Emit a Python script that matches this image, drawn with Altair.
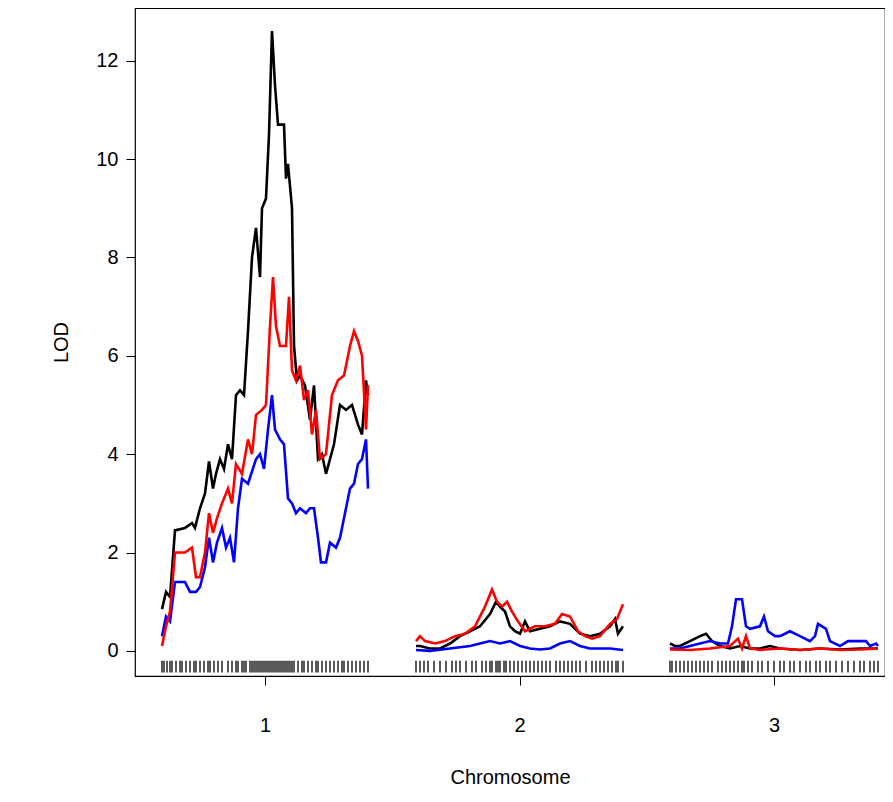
import pandas as pd
import altair as alt

# chromosome offsets on the genome axis (cM) and tick centres
chrom_names = ["1", "2", "3"]
chrom_offset = [0, 127, 254]
chrom_length = [103, 103.5, 104]

# chr 1 scan (pos cM, LOD for three phenotypes)
c1_pos_k = [0, 2, 4, 6.5, 11.5, 15, 16.5, 19, 21.5, 23.5, 25.5, 27, 29, 31, 33, 35, 37, 39, 41, 43, 45, 47, 49,
            50, 52, 53.5, 55, 56.5, 58, 61, 62, 63, 65, 66, 67.5, 69, 71.5, 74, 76, 78, 80, 82, 84, 86, 89, 92,
            95, 98, 100, 102, 103]
c1_black = [0.85, 1.2, 1.1, 2.45, 2.5, 2.6, 2.5, 2.9, 3.2, 3.85, 3.3, 3.6, 3.9, 3.7, 4.2, 3.9, 5.2, 5.3, 5.2,
            6.5, 8.0, 8.6, 7.6, 9.0, 9.2, 10.5, 12.6, 11.5, 10.7, 10.7, 9.6, 9.9, 9.0, 6.2, 5.5, 5.6, 5.4, 4.7,
            5.4, 3.9, 4.0, 3.6, 3.9, 4.2, 5.0, 4.9, 5.0, 4.6, 4.4, 5.5, 5.2]
c1_pos_r = [0, 2, 4, 6.5, 11.5, 15, 17, 19, 21.5, 23.5, 25.5, 27.5, 30, 33, 35, 37, 40, 43, 45, 47, 50, 52,
            54, 55.5, 57, 59, 62, 63.5, 65, 67, 69, 71, 73, 75, 77, 79, 82, 85, 88, 91, 94, 96, 98, 100, 102, 103]
c1_red = [0.1, 0.5, 0.8, 2.0, 2.0, 2.1, 1.5, 1.5, 2.0, 2.8, 2.4, 2.7, 3.0, 3.3, 3.0, 3.8, 3.6, 4.3, 4.0, 4.8,
          4.9, 5.0, 6.6, 7.6, 6.6, 6.2, 6.2, 7.2, 5.7, 5.5, 5.8, 5.1, 5.3, 4.4, 4.9, 3.9, 4.0, 5.2, 5.5, 5.6,
          6.2, 6.5, 6.3, 6.0, 4.5, 5.4]
c1_pos_b = [0, 2, 4, 6.5, 11.5, 14, 17, 19, 21.5, 23.5, 25.5, 27.5, 30, 32, 34, 36, 38, 40, 43, 47, 49, 51,
            53, 55, 56.5, 59, 61, 63, 65, 67, 69, 72, 74, 76, 78, 79.5, 82, 84, 87, 89, 92, 94, 96, 98, 100, 102,
            103]
c1_blue = [0.3, 0.7, 0.6, 1.4, 1.4, 1.2, 1.2, 1.3, 1.7, 2.3, 1.8, 2.2, 2.5, 2.1, 2.3, 1.8, 2.9, 3.5, 3.4, 3.9,
           4.0, 3.7, 4.5, 5.2, 4.5, 4.3, 4.2, 3.1, 3.0, 2.8, 2.9, 2.8, 2.9, 2.9, 2.3, 1.8, 1.8, 2.2, 2.1, 2.3,
           2.9, 3.3, 3.4, 3.8, 3.9, 4.3, 3.3]

# chr 2
c2_pos_k = [0, 2, 7, 12, 17, 22, 27, 32, 37, 40, 42, 44.5, 47, 49.5, 52, 54.5, 57, 62, 67, 72, 77, 82, 87, 92,
            97, 99.5, 101, 103.5]
c2_black = [0.1, 0.1, 0.05, 0.05, 0.15, 0.3, 0.4, 0.5, 0.75, 1.0, 0.9, 0.8, 0.5, 0.4, 0.35, 0.6, 0.4, 0.45,
            0.5, 0.6, 0.55, 0.35, 0.3, 0.35, 0.5, 0.65, 0.35, 0.5]
c2_pos_r = [0, 2, 4.5, 9.5, 14.5, 19.5, 24.5, 29.5, 34.5, 38, 40.5, 43, 45.5, 48, 51, 54.5, 59.5, 64.5, 69.5,
            73, 77, 81, 84.5, 88, 92, 97, 100.5, 103.5]
c2_red = [0.2, 0.3, 0.2, 0.15, 0.2, 0.3, 0.35, 0.5, 0.9, 1.25, 1.0, 0.9, 1.0, 0.8, 0.6, 0.4, 0.5, 0.5, 0.55,
          0.75, 0.7, 0.4, 0.3, 0.25, 0.3, 0.55, 0.65, 0.95]
c2_pos_b = [0, 7, 17, 27, 32, 37, 42, 47, 52, 57, 62, 67, 72, 77, 82, 87, 92, 97, 103.5]
c2_blue = [0.02, 0.0, 0.05, 0.1, 0.15, 0.2, 0.15, 0.2, 0.1, 0.05, 0.03, 0.05, 0.15, 0.2, 0.1, 0.05, 0.05, 0.05,
           0.02]

# chr 3
c3_pos_k = [0, 2.5, 5, 10, 15, 18, 21, 25, 30, 35, 40, 45, 50, 55, 65, 75, 85, 95, 104]
c3_black = [0.15, 0.1, 0.1, 0.2, 0.3, 0.35, 0.2, 0.1, 0.05, 0.1, 0.05, 0.05, 0.1, 0.05, 0.02, 0.05, 0.03,
            0.05, 0.05]
c3_pos_r = [0, 10, 20, 30, 34, 36, 38, 40, 45, 55, 65, 75, 85, 95, 104]
c3_red = [0.03, 0.02, 0.05, 0.1, 0.25, 0.05, 0.3, 0.05, 0.02, 0.05, 0.02, 0.05, 0.02, 0.03, 0.05]
c3_pos_b = [0, 5, 10, 15, 20, 25, 29, 31, 33, 36, 38, 40, 45, 47, 49, 52.5, 55, 60, 65, 70, 72.5, 74, 76, 78,
            80, 85, 89, 93, 98, 100, 103, 104]
c3_blue = [0.05, 0.05, 0.1, 0.15, 0.2, 0.15, 0.15, 0.5, 1.05, 1.05, 0.5, 0.45, 0.5, 0.7, 0.4, 0.3, 0.3, 0.4,
           0.3, 0.2, 0.3, 0.55, 0.5, 0.45, 0.2, 0.1, 0.2, 0.2, 0.2, 0.1, 0.15, 0.1]

# marker positions (cM within chromosome)
markers_1 = [0, 1, 2.5, 4, 5, 7, 9, 10, 12, 14, 16, 17, 19, 21, 23, 24, 26, 28, 30, 33, 35, 37, 38, 40, 41, 42,
             44, 45, 46, 47, 48, 49, 50, 51, 52, 53, 54, 55, 56, 57, 58, 59, 60, 61, 62, 63, 64, 65, 66, 68,
             70, 71, 73, 75, 77, 78, 80, 82, 84, 86, 88, 90, 91, 93, 95, 97, 99, 101, 103]
markers_2 = [0, 2, 4, 6, 9, 12, 15, 18, 20, 22, 25, 28, 30, 33, 35, 37, 38, 40, 41, 42, 44, 45, 47, 49, 51,
             53, 55, 57, 59, 61, 63, 65, 67, 70, 72, 74, 76, 78, 80, 82, 85, 88, 90, 92, 94, 96, 98, 100, 101,
             103.5]
markers_3 = [0, 1, 3, 5, 7, 9, 11, 13, 15, 17, 19, 21, 24, 26, 28, 30, 32, 34, 36, 37, 39, 41, 44, 46, 49, 52,
             55, 57, 60, 62, 65, 68, 70, 73, 75, 78, 80, 83, 86, 89, 92, 95, 97, 100, 102, 104]

series = [
    ("black", [(c1_pos_k, c1_black), (c2_pos_k, c2_black), (c3_pos_k, c3_black)]),
    ("blue", [(c1_pos_b, c1_blue), (c2_pos_b, c2_blue), (c3_pos_b, c3_blue)]),
    ("red", [(c1_pos_r, c1_red), (c2_pos_r, c2_red), (c3_pos_r, c3_red)]),
]

rows = []
for colour, chroms in series:
    for i, (pos, lod) in enumerate(chroms):
        for p, v in zip(pos, lod):
            rows.append({"x": chrom_offset[i] + p, "lod": v, "trace": f"{colour}-{i}", "col": colour})
df = pd.DataFrame(rows)

mrows = []
for i, mk in enumerate([markers_1, markers_2, markers_3]):
    for p in mk:
        mrows.append({"x": chrom_offset[i] + p, "y0": -0.44, "y1": -0.2})
mdf = pd.DataFrame(mrows)

centres = [o + l / 2 for o, l in zip(chrom_offset, chrom_length)]
label_expr = " : ".join(f"datum.value < {c + 1} ? '{n}'" for c, n in zip(centres, chrom_names)) + " : ''"

xscale = alt.Scale(domain=[-13.5, 361.5], nice=False, zero=False)
yscale = alt.Scale(domain=[-0.51, 13.07], nice=False, zero=False)

font = "Liberation Sans"
lines = (
    alt.Chart(df)
    .mark_line(strokeWidth=2.6, clip=True)
    .encode(
        x=alt.X("x:Q", scale=xscale,
                axis=alt.Axis(values=centres, labelExpr=label_expr, title="Chromosome", grid=False,
                              tickSize=9, labelPadding=30, titlePadding=32,
                              labelFontSize=20, titleFontSize=20, labelFont=font, titleFont=font)),
        y=alt.Y("lod:Q", scale=yscale,
                axis=alt.Axis(values=[0, 2, 4, 6, 8, 10, 12], title="LOD", grid=False, tickSize=9,
                              labelPadding=8, titlePadding=24,
                              labelFontSize=20, titleFontSize=20, labelFont=font, titleFont=font)),
        detail="trace:N",
        color=alt.Color("col:N", scale=None),
        order=alt.Order("x:Q"),
    )
)

rug = (
    alt.Chart(mdf)
    .mark_rule(color="black", strokeWidth=1.3)
    .encode(x="x:Q", y="y0:Q", y2="y1:Q")
)

chart = (
    alt.layer(rug, lines)
    .properties(width=750, height=668, autosize=alt.AutoSizeParams(type="none"),
                padding={"left": 127, "top": 0, "right": 0, "bottom": 115})
    .configure_view(stroke="black", strokeWidth=1.2)
    .configure_axis(
        titleFontWeight="normal",
        labelColor="black", titleColor="black", domain=False,
        tickColor="black", tickWidth=1,
    )
)

chart.save("out.html", embed_options={"renderer": "svg", "actions": False})
